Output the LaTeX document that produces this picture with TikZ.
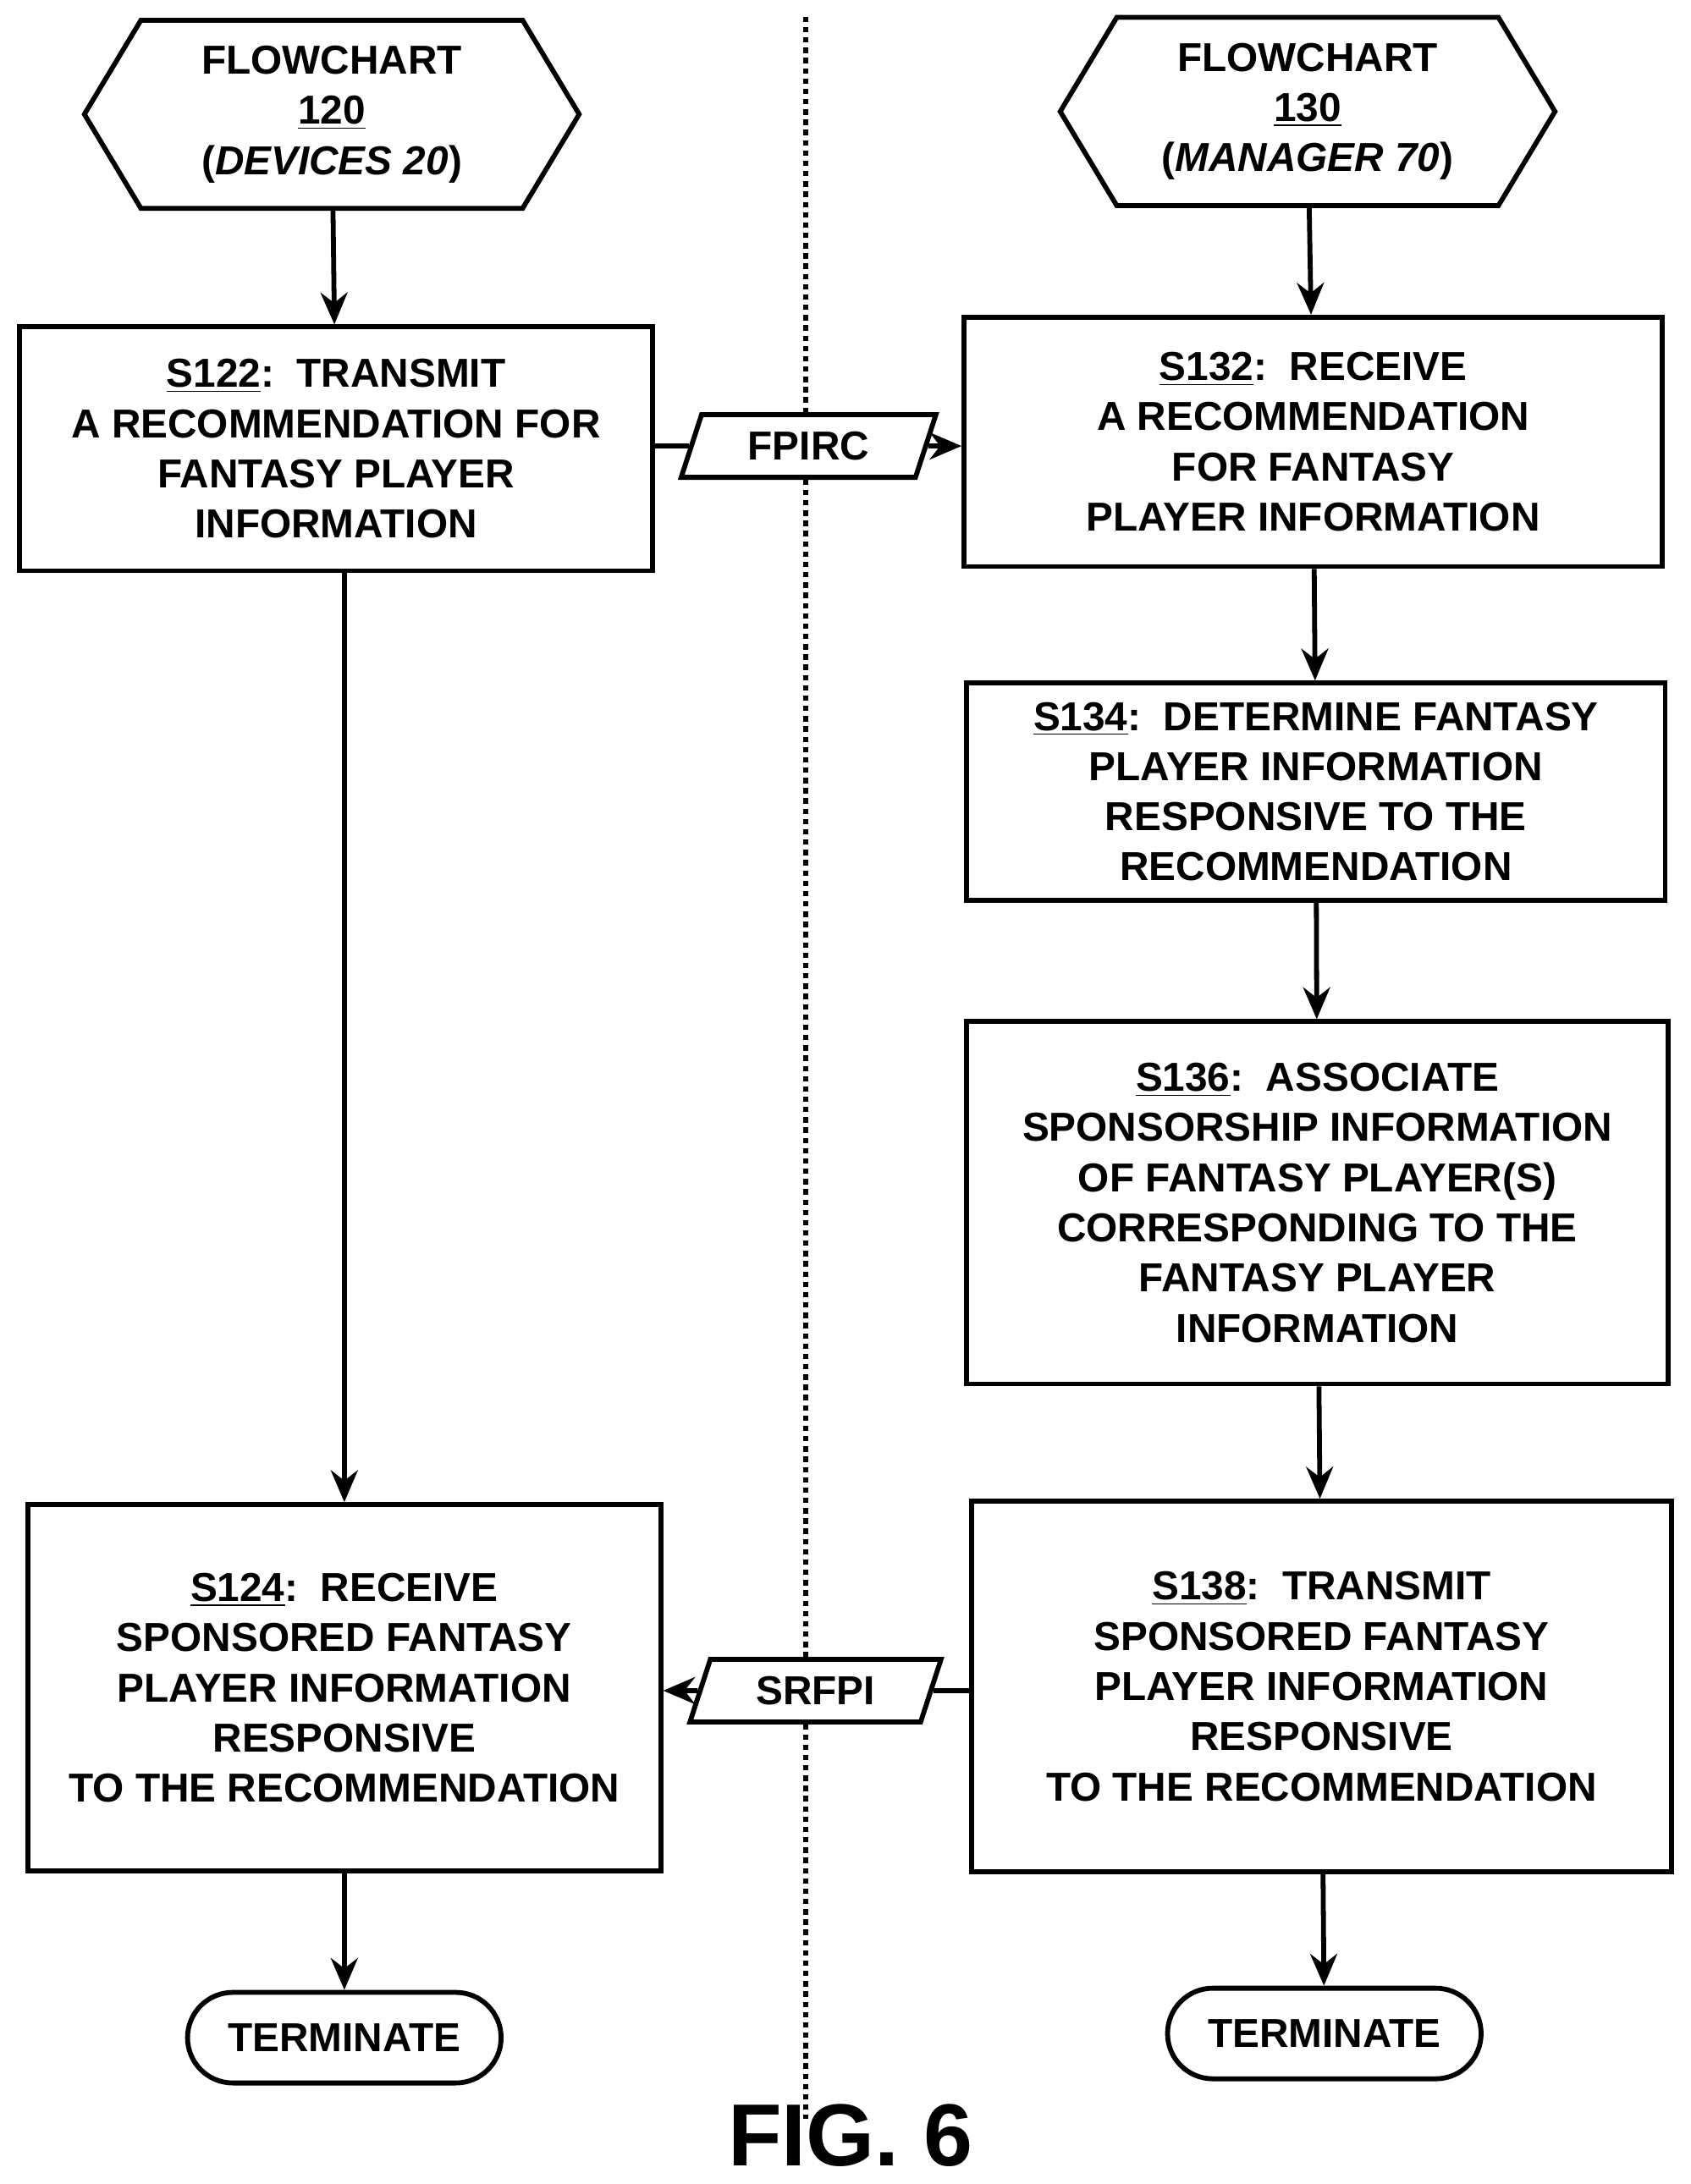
\documentclass[tikz,border=0pt]{standalone}
\usepackage{fontspec}
\setmainfont{Liberation Sans}
\usetikzlibrary{shapes.geometric,shapes.symbols,arrows.meta,positioning}
\begin{document}
\begin{tikzpicture}[x=0.02cm,y=-0.02cm,line width=2pt,>={Stealth[length=13pt,width=11pt]},
    step box/.style={draw,align=center,font=\fontsize{16.5}{20.5}\selectfont\bfseries},
    head node/.style={draw,signal,signal to=east and west,signal pointer angle=118,align=center,
      minimum width=7.1cm,minimum height=2.7cm,inner sep=0pt,font=\fontsize{16.5}{20.5}\selectfont\bfseries},
    end node/.style={draw,rounded corners=0.65cm,minimum width=4.5cm,minimum height=1.3cm,font=\fontsize{16.5}{20}\selectfont\bfseries},
    msg node/.style={draw,fill=white,trapezium,trapezium left angle=72,trapezium right angle=108,
      minimum width=2.2cm,minimum height=0.9cm,inner sep=2pt,font=\fontsize{16.5}{20}\selectfont\bfseries}]
  \useasboundingbox (0,0) rectangle (1213,1567);
  % divider
  \draw[line width=2.2pt,dotted] (578,12) -- (578,1520);
  % left column
  \node[head node] (h120) at (238,82) {FLOWCHART\\\underline{120}\\(\textit{DEVICES 20})};
  \node[step box,minimum width=9.08cm,minimum height=3.5cm] (s122) at (241,322)
    {\underline{S122}:\ \ TRANSMIT\\A RECOMMENDATION FOR\\FANTASY PLAYER\\INFORMATION};
  \node[step box,minimum width=9.08cm,minimum height=5.26cm] (s124) at (247,1211)
    {\underline{S124}:\ \ RECEIVE\\SPONSORED FANTASY\\PLAYER INFORMATION\\RESPONSIVE\\TO THE RECOMMENDATION};
  \node[end node] (t1) at (247,1462) {TERMINATE};
  % right column
  \node[head node] (h130) at (938,80) {FLOWCHART\\\underline{130}\\(\textit{MANAGER 70})};
  \node[step box,minimum width=10.02cm,minimum height=3.58cm] (s132) at (942,317)
    {\underline{S132}:\ \ RECEIVE\\A RECOMMENDATION\\FOR FANTASY\\PLAYER INFORMATION};
  \node[step box,minimum width=10.02cm,minimum height=3.12cm] (s134) at (944,568)
    {\underline{S134}:\ \ DETERMINE FANTASY\\PLAYER INFORMATION\\RESPONSIVE TO THE\\RECOMMENDATION};
  \node[step box,minimum width=10.06cm,minimum height=5.2cm] (s136) at (945,863)
    {\underline{S136}:\ \ ASSOCIATE\\SPONSORSHIP INFORMATION\\OF FANTASY PLAYER(S)\\CORRESPONDING TO THE\\FANTASY PLAYER\\INFORMATION};
  \node[step box,minimum width=10.04cm,minimum height=5.32cm] (s138) at (948,1210)
    {\underline{S138}:\ \ TRANSMIT\\SPONSORED FANTASY\\PLAYER INFORMATION\\RESPONSIVE\\TO THE RECOMMENDATION};
  \node[end node] (t2) at (950,1459) {TERMINATE};
  % messages
  \node[msg node] (fpirc) at (580,320) {FPIRC};
  \node[msg node] (srfpi) at (585,1213) {SRFPI};
  % connectors
  \draw[->] (h120) -- (s122);
  \draw[->] (s122.south -| s124.north) -- (s124);
  \draw[->] (s124) -- (t1);
  \draw[->] (h130) -- (s132);
  \draw[->] (s132) -- (s134);
  \draw[->] (s134) -- (s136);
  \draw[->] (s136) -- (s138);
  \draw[->] (s138) -- (t2);
  \draw (s122.east |- fpirc) -- (fpirc);
  \draw[->] (fpirc) -- (s132.west |- fpirc);
  \draw (s138.west |- srfpi) -- (srfpi);
  \draw[->] (srfpi) -- (s124.east |- srfpi);
  \node[font=\fontsize{36}{40}\selectfont\bfseries] (fig) at (610,1532) {FIG. 6};
\end{tikzpicture}
\end{document}
